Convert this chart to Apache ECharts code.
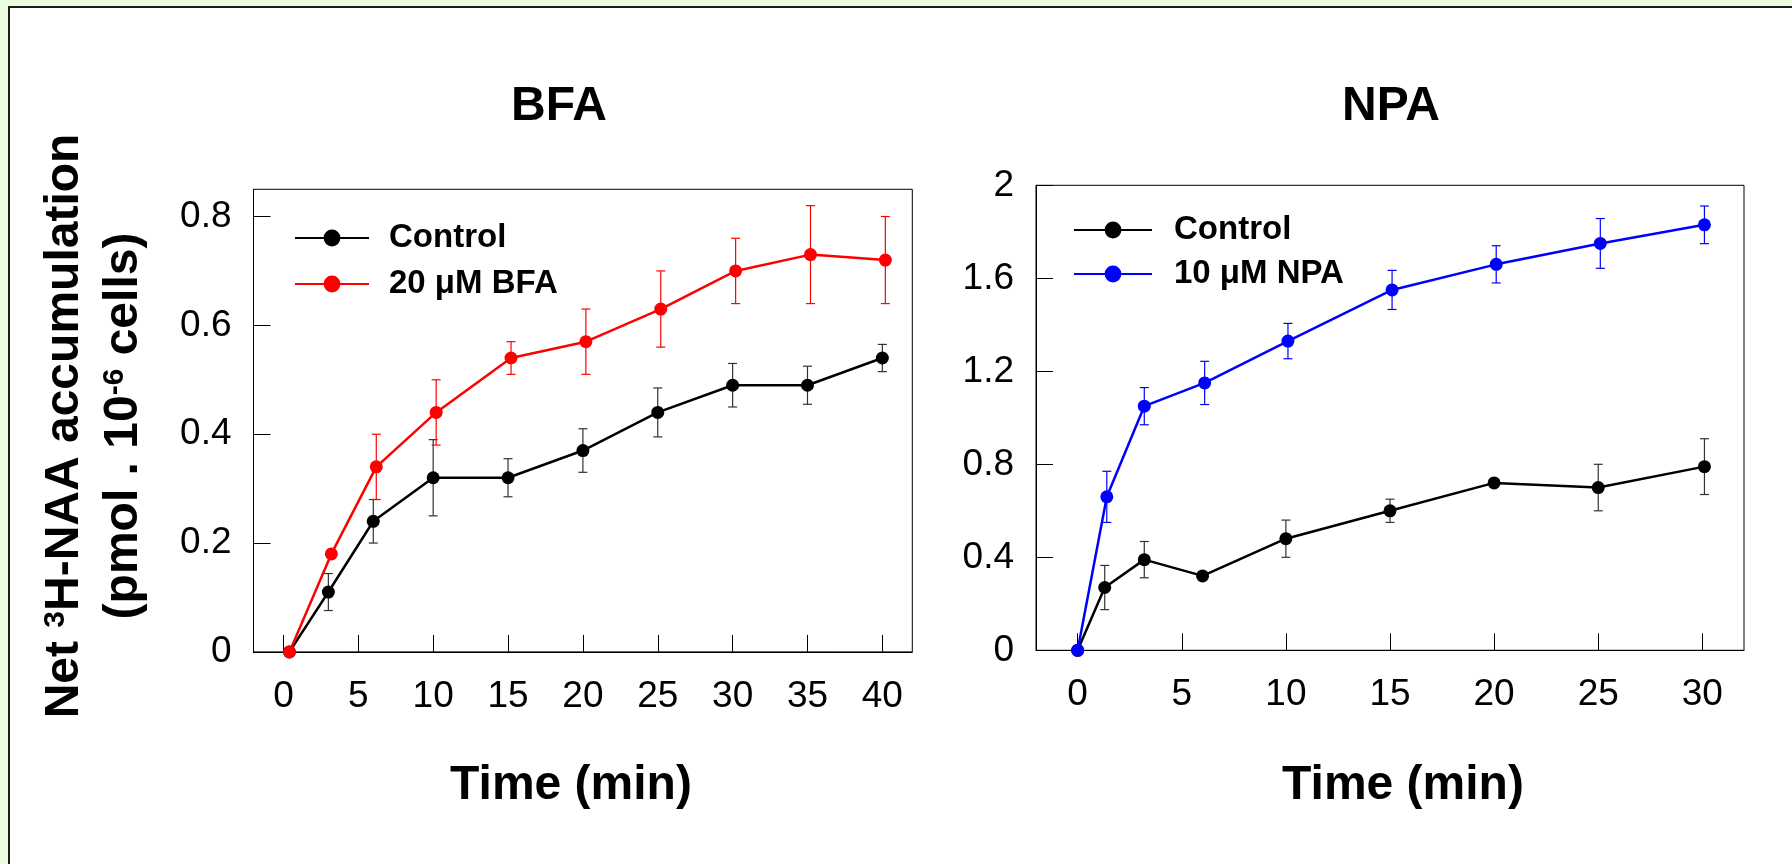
<!DOCTYPE html>
<html>
<head>
<meta charset="utf-8">
<script src="https://cdn.jsdelivr.net/npm/echarts@6.0.0/dist/echarts.min.js"></script>
<style>
html, body { margin: 0; padding: 0; background: #fff; overflow: hidden; width: 1792px; height: 864px; }
#stripTop { position: absolute; left: 0; top: 0; width: 1792px; height: 6px; background: #ecfce0; }
#stripLeft { position: absolute; left: 0; top: 0; width: 8px; height: 864px; background: #ecfce0; }
#frame { position: absolute; left: 8px; top: 6px; width: 1784px; height: 858px; border-top: 2px solid #1b1b1b; border-left: 2px solid #1b1b1b; background: #fff; box-sizing: border-box; }
#main { position: absolute; left: 0; top: 0; width: 1792px; height: 864px; }
</style>
</head>
<body>
<div id="stripTop"></div>
<div id="stripLeft"></div>
<div id="frame"></div>
<div id="main"></div>
<script>
// BFA panel
var bfaCtrlTime = [0.4, 3, 6, 10, 15, 20, 25, 30, 35, 40];
var bfaCtrlVal  = [0, 0.11, 0.24, 0.32, 0.32, 0.37, 0.44, 0.49, 0.49, 0.54];
var bfaCtrlErr  = [0, 0.034, 0.04, 0.07, 0.035, 0.04, 0.045, 0.04, 0.035, 0.025];
var bfaTime = [0.4, 3.2, 6.2, 10.2, 15.2, 20.2, 25.2, 30.2, 35.2, 40.2];
var bfaVal  = [0, 0.18, 0.34, 0.44, 0.54, 0.57, 0.63, 0.70, 0.73, 0.72];
var bfaErr  = [0, 0, 0.06, 0.06, 0.03, 0.06, 0.07, 0.06, 0.09, 0.08];

// NPA panel
var npaCtrlTime = [0, 1.3, 3.2, 6, 10, 15, 20, 25, 30.1];
var npaCtrlVal  = [0, 0.27, 0.39, 0.32, 0.48, 0.60, 0.72, 0.70, 0.79];
var npaCtrlErr  = [0, 0.095, 0.078, 0.01, 0.08, 0.05, 0.01, 0.1, 0.12];
var npaTime = [0, 1.4, 3.2, 6.1, 10.1, 15.1, 20.1, 25.1, 30.1];
var npaVal  = [0, 0.66, 1.05, 1.15, 1.33, 1.55, 1.66, 1.75, 1.83];
var npaErr  = [0, 0.11, 0.08, 0.093, 0.076, 0.084, 0.08, 0.107, 0.081];

// tick labels
var bfaXTicks = [0, 5, 10, 15, 20, 25, 30, 35, 40];
var bfaYTicks = [0, 0.2, 0.4, 0.6, 0.8];
var npaXTicks = [0, 5, 10, 15, 20, 25, 30];
var npaYTicks = [0, 0.4, 0.8, 1.2, 1.6, 2];

var FONT = "'Liberation Sans', Arial, sans-serif";

function pairs(xs, ys) {
    var out = [];
    for (var i = 0; i < xs.length; i++) out.push([xs[i], ys[i]]);
    return out;
}
function errData(xs, ys, es) {
    var out = [];
    for (var i = 0; i < xs.length; i++) out.push([xs[i], ys[i] - es[i], ys[i] + es[i]]);
    return out;
}

// error bar with caps
function renderErr(params, api) {
    var x = api.value(0), lo = api.value(1), hi = api.value(2);
    if (hi - lo <= 0) return null;
    var p1 = api.coord([x, hi]);
    var p2 = api.coord([x, lo]);
    var w = 4.5;
    var st = { stroke: api.visual('color'), lineWidth: 1.2 };
    return {
        type: 'group',
        children: [
            { type: 'line', shape: { x1: p1[0], y1: p1[1], x2: p2[0], y2: p2[1] }, style: st },
            { type: 'line', shape: { x1: p1[0] - w, y1: p1[1], x2: p1[0] + w, y2: p1[1] }, style: st },
            { type: 'line', shape: { x1: p2[0] - w, y1: p2[1], x2: p2[0] + w, y2: p2[1] }, style: st }
        ]
    };
}

function xAxisCfg(idx, min, max, ticks) {
    return {
        type: 'value', gridIndex: idx, min: min, max: max,
        axisLine: { show: true, onZero: false, lineStyle: { color: '#000', width: 1 } },
        axisTick: { show: true, inside: true, length: 17, customValues: ticks, lineStyle: { color: '#000', width: 1 } },
        axisLabel: { customValues: ticks, fontSize: 37, color: '#000', fontFamily: FONT, margin: 26 },
        splitLine: { show: false }
    };
}
function yAxisCfg(idx, min, max, ticks) {
    return {
        type: 'value', gridIndex: idx, min: min, max: max,
        axisLine: { show: true, onZero: false, lineStyle: { color: '#000', width: 1 } },
        axisTick: { show: true, inside: true, length: 17, customValues: ticks, lineStyle: { color: '#000', width: 1 } },
        axisLabel: { customValues: ticks, fontSize: 37, color: '#000', fontFamily: FONT, margin: 22, padding: [14, 0, 0, 0] },
        splitLine: { show: false }
    };
}
function lineSeries(name, idx, data, color) {
    return {
        name: name, type: 'line', xAxisIndex: idx, yAxisIndex: idx, data: data,
        symbol: 'circle', symbolSize: 13, z: 3,
        lineStyle: { color: color, width: 2.5 },
        itemStyle: { color: color }
    };
}
function errSeries(name, idx, data, color) {
    return {
        name: name, type: 'custom', xAxisIndex: idx, yAxisIndex: idx, data: data,
        renderItem: renderErr, itemStyle: { color: color }, z: 2, silent: true
    };
}
function bigText(txt, x, y, rot) {
    return {
        type: 'text', x: x, y: y, rotation: rot || 0,
        style: {
            text: txt, fontSize: 48, fontWeight: 'bold', fontFamily: FONT, fill: '#000',
            align: 'center', verticalAlign: 'middle',
            rich: { sup: { fontSize: 30, fontWeight: 'bold', fontFamily: FONT, verticalAlign: 'top' } }
        }
    };
}

var myChart = echarts.init(document.getElementById('main'));
myChart.setOption({
    animation: false,
    grid: [
        { left: 253.5, top: 189.3, width: 658.8, height: 462.6, show: true, borderColor: '#000', borderWidth: 1, outerBoundsMode: 'none' },
        { left: 1036, top: 185.3, width: 708, height: 465, show: true, borderColor: '#000', borderWidth: 1, outerBoundsMode: 'none' }
    ],
    xAxis: [xAxisCfg(0, -2, 42, bfaXTicks), xAxisCfg(1, -2, 32, npaXTicks)],
    yAxis: [yAxisCfg(0, 0, 0.85, bfaYTicks), yAxisCfg(1, 0, 2, npaYTicks)],
    legend: [
        {
            data: ['Control', '20 μM BFA'], orient: 'vertical', left: 289, top: 215,
            itemWidth: 74, itemHeight: 21, itemGap: 10,
            textStyle: { fontSize: 33, fontWeight: 'bold', fontFamily: FONT, color: '#000', lineHeight: 36, padding: [0, 0, 0, 15] }
        },
        {
            data: ['Control', '10 μM NPA'], orient: 'vertical', left: 1068, top: 207,
            itemWidth: 78, itemHeight: 21, itemGap: 8,
            textStyle: { fontSize: 33, fontWeight: 'bold', fontFamily: FONT, color: '#000', lineHeight: 36, padding: [0, 0, 0, 17] }
        }
    ],
    graphic: [
        bigText('BFA', 559, 107),
        bigText('NPA', 1391, 107),
        bigText('Time (min)', 571, 786),
        bigText('Time (min)', 1403, 786),
        bigText('Net {sup|3}H-NAA accumulation', 65, 426, Math.PI / 2),
        bigText('(pmol . 10{sup|-6} cells)', 124, 426, Math.PI / 2)
    ],
    series: [
        errSeries('errBfaCtrl', 0, errData(bfaCtrlTime, bfaCtrlVal, bfaCtrlErr), '#333333'),
        errSeries('errBfa', 0, errData(bfaTime, bfaVal, bfaErr), '#ff0000'),
        lineSeries('Control', 0, pairs(bfaCtrlTime, bfaCtrlVal), '#000000'),
        lineSeries('20 μM BFA', 0, pairs(bfaTime, bfaVal), '#ff0000'),
        errSeries('errNpaCtrl', 1, errData(npaCtrlTime, npaCtrlVal, npaCtrlErr), '#333333'),
        errSeries('errNpa', 1, errData(npaTime, npaVal, npaErr), '#0000ff'),
        lineSeries('Control', 1, pairs(npaCtrlTime, npaCtrlVal), '#000000'),
        lineSeries('10 μM NPA', 1, pairs(npaTime, npaVal), '#0000ff')
    ]
});
</script>
</body>
</html>
